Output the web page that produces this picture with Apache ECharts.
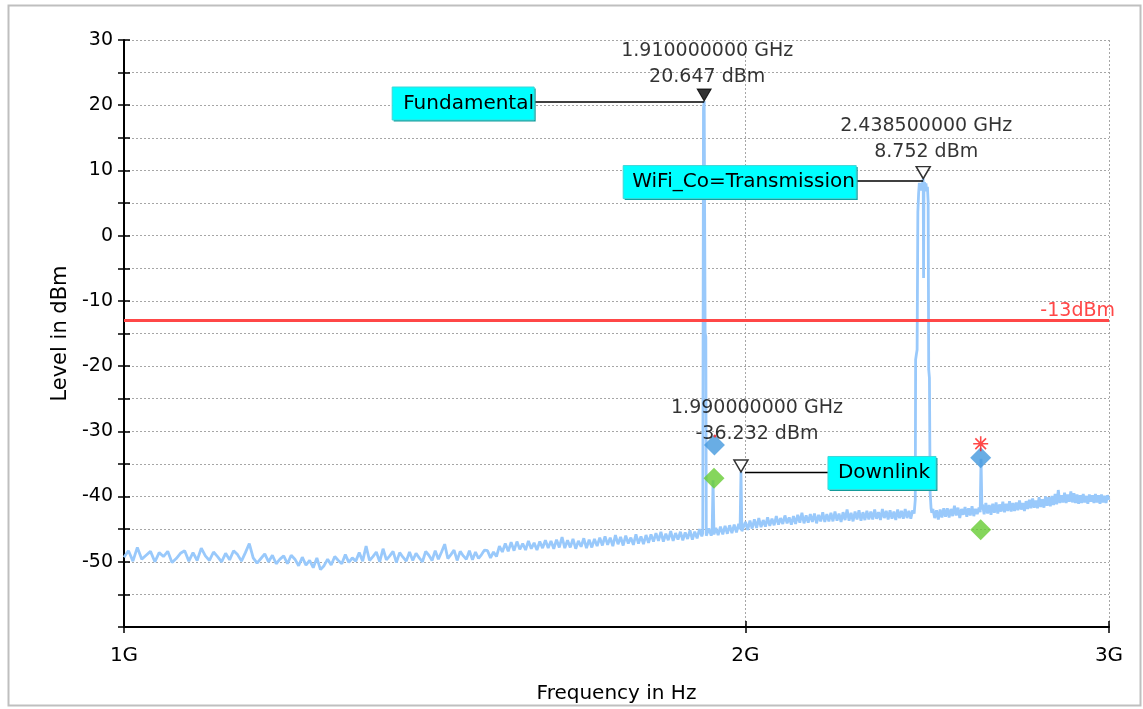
<!DOCTYPE html>
<html>
<head>
<meta charset="utf-8">
<script src="https://cdn.jsdelivr.net/npm/echarts@6/dist/echarts.min.js"></script>
<style>
  html, body { margin: 0; padding: 0; background: #fff; }
  #chart { width: 1143px; height: 709px; }
</style>
</head>
<body>
<div id="chart"></div>
<script>
const FONT = 'DejaVu Sans';

// Noise floor of the sweep, one level every 5 MHz from 1000 MHz to 3000 MHz (dBm)
const sweepStartMHz = 1000;
const sweepStepMHz = 5;
const floorLevelDbm = [
  -49.3, -48.3, -49.9, -47.8, -49.6, -49.0, -48.4, -50.0, -48.6, -49.2, -48.4, -50.1, -49.5, -48.7, -48.3, -49.9, -48.6, -49.8, -47.9, -49.1,
  -49.8, -48.5, -49.2, -50.0, -48.7, -49.7, -48.3, -48.9, -49.9, -48.6, -47.2, -49.4, -50.2, -49.5, -48.8, -50.0, -49.0, -50.3, -49.6, -49.1,
  -50.3, -49.0, -49.6, -50.6, -49.3, -50.5, -49.8, -50.9, -49.4, -51.2, -50.6, -49.6, -50.5, -49.2, -49.8, -50.3, -48.9, -50.1, -49.4, -49.9,
  -48.6, -49.9, -47.6, -49.8, -49.2, -48.5, -50.0, -48.0, -49.7, -49.1, -48.4, -50.1, -48.6, -49.3, -49.9, -48.5, -49.8, -48.7, -49.4, -50.0,
  -48.4, -49.0, -49.8, -48.3, -49.6, -48.5, -47.3, -49.5, -48.9, -48.2, -49.8, -48.4, -49.1, -49.6, -48.3, -49.7, -48.5, -49.5, -48.9, -48.2,
  -48.3, -49.4, -48.5, -49.2, -47.6, -48.5, -47.2, -48.4, -47.0, -48.3, -46.9, -48.1, -47.2, -48.2, -46.8, -48.0, -47.1, -48.2, -46.9, -47.9,
  -46.7, -47.9, -46.8, -48.0, -46.6, -47.8, -46.2, -47.9, -46.7, -47.8, -46.5, -48.0, -46.8, -47.7, -46.4, -47.9, -46.6, -47.8, -46.5, -47.6,
  -46.3, -47.5, -46.1, -47.4, -46.3, -47.6, -45.9, -47.3, -46.2, -47.5, -46.0, -47.2, -46.3, -47.4, -45.8, -47.2, -46.1, -47.3, -45.9, -47.1,
  -45.8, -46.9, -45.6, -46.8, -45.4, -46.9, -45.7, -46.7, -45.3, -46.8, -45.6, -46.6, -45.4, -46.7, -45.5, -46.5, -45.2, -46.6, -45.4, -46.4,
  -45.0, -46.1, -45.5, -46.2, -44.9, -46.0, -45.6, -44.8, -45.9, -44.6, -45.8, -44.5, -45.7, -44.4, -45.6, -44.3, -45.5, -44.2, -45.0, -45.3,
  -43.9, -45.1, -43.7, -44.9, -43.5, -44.8, -43.3, -44.7, -43.6, -44.6, -43.2, -44.5, -43.4, -44.4, -43.0, -44.3, -43.3, -44.2, -42.9, -44.1,
  -43.2, -44.3, -43.0, -44.2, -42.8, -44.0, -42.5, -44.1, -42.9, -44.0, -42.7, -43.9, -42.6, -44.1, -42.8, -43.8, -42.4, -43.9, -42.7, -43.8,
  -42.5, -43.8, -42.3, -43.7, -42.6, -43.9, -42.4, -43.6, -42.0, -43.7, -42.5, -43.8, -42.3, -43.5, -42.1, -43.7, -42.4, -43.6, -42.2, -43.5,
  -42.3, -43.5, -42.0, -43.4, -42.4, -43.6, -41.9, -43.3, -42.2, -43.5, -42.1, -43.4, -42.3, -43.6, -42.0, -43.3, -42.2, -43.4, -41.9, -43.3,
  -42.2, -43.4, -42.1, -42.8, -42.8, -42.8, -42.8, -42.8, -42.8, -42.8, -42.8, -42.8, -42.8, -41.9, -43.3, -42.1, -43.5, -42.0, -43.2, -41.8,
  -43.1, -41.8, -43.2, -41.9, -43.0, -41.4, -42.9, -41.7, -43.3, -41.9, -42.8, -41.6, -43.1, -41.8, -42.9, -41.5, -43.0, -41.9, -42.7, -41.7,
  -42.2, -41.2, -42.7, -41.0, -42.6, -41.3, -42.8, -41.1, -42.5, -40.9, -42.6, -41.2, -42.3, -40.8, -42.4, -41.1, -42.2, -40.7, -42.3, -41.0,
  -42.2, -40.9, -42.1, -40.6, -42.0, -41.0, -42.2, -40.7, -41.9, -40.5, -41.8, -40.3, -41.7, -40.6, -41.8, -40.1, -41.6, -40.4, -41.7, -40.0,
  -41.4, -40.1, -41.5, -39.9, -41.3, -39.6, -41.2, -39.0, -41.0, -39.8, -40.9, -39.4, -41.0, -39.7, -40.8, -39.2, -40.9, -39.5, -41.0, -39.7,
  -41.1, -39.8, -41.0, -39.6, -40.9, -39.9, -41.1, -39.7, -40.8, -39.8, -41.0, -39.6, -40.9, -39.8, -41.1, -39.7, -40.9, -39.9, -41.0, -39.8,
  -40.5
];

// Signals rising out of the floor: [MHz, dBm]
const fundamentalPeak = [[1907, -45.6], [1908.5, 19.5], [1910, 20.647], [1912, -14.9], [1913.5, -15.5], [1914.5, -46.0]];
const spur1929 = [[1927, -45.5], [1929, -37.5], [1931, -45.8]];
const downlinkSpur = [[1988, -45.0], [1990, -36.232], [1992, -45.3]];
const wifiChannel = [
  [2414, -42.6], [2417, -40.5], [2418, -19.0], [2420, -18.2], [2422, -17.5], [2424, 3.6], [2426, 6.4],
  [2428, 8.1], [2430, 7.2], [2432, 8.0], [2434, 6.9], [2436, 7.8], [2438.5, 8.752], [2439.5, -6.5],
  [2440.5, 7.6], [2442, 8.2], [2444, 7.1], [2446, 8.0], [2448, 6.8], [2450, 7.5], [2452, 5.2],
  [2453.5, -20.5], [2455.5, -21.8], [2457.5, -39.5], [2460, -41.8], [2462, -42.5]
];
const spur2600 = [[2598.5, -42.4], [2601, -34.2], [2603.5, -42.0]];

// Trace markers
const markerNames = ['Fundamental', 'WiFi_Co=Transmission', 'Downlink'];
const markerFreqGHz = [1.91, 2.4385, 1.99];
const markerLevelDbm = [20.647, 8.752, -36.232];
const markerFilled = [true, false, false];

// Limit line
const limitLevelDbm = -13;
const limitLabel = '-13dBm';

// Spot measurement symbols: [GHz, dBm]
const blueDiamonds = [[1.932, -32.1], [2.6, -34.05]];
const greenDiamonds = [[1.931, -37.2], [2.6, -45.1]];
const redAsterisks = [[2.6, -31.9]];
const redDots = [[1.933, -30.7]];

// Axis ticks
const xTickValues = [1, 2, 3];
const xTickLabels = ['1G', '2G', '3G'];
const yLabelStep = 10;

// ---- build the trace: floor samples, with signal segments replacing the floor where they sit
const segments = [fundamentalPeak, spur1929, downlinkSpur, wifiChannel, spur2600];
const tracePoints = [];
floorLevelDbm.forEach((lvl, i) => {
  const f = sweepStartMHz + i * sweepStepMHz;
  const covered = segments.some(s => f >= s[0][0] && f <= s[s.length - 1][0]);
  if (!covered) tracePoints.push([f, lvl]);
});
segments.forEach(s => s.forEach(p => tracePoints.push(p)));
tracePoints.sort((a, b) => a[0] - b[0]);
const traceData = tracePoints.map(p => [p[0] / 1000, p[1]]);

const xLabel = v => {
  const i = xTickValues.findIndex(t => Math.abs(t - v) < 1e-6);
  return i >= 0 ? xTickLabels[i] : '';
};
const yLabel = v => (v % yLabelStep === 0 && v > -60) ? String(v) : '';

const tickStyle = { color: '#000', width: 1.5 };
const gridLine = { show: true, lineStyle: { color: '#a6a6a6', width: 1, type: [2, 2] } };

const triFilled = 'path://M0,0L14,0L7,12Z';
const asterisk = 'path://M8,0L8,16M0,8L16,8M2.3,2.3L13.7,13.7M13.7,2.3L2.3,13.7';

const markerData = markerNames.map((name, i) => ({
  name,
  value: [markerFreqGHz[i], markerLevelDbm[i]],
  itemStyle: markerFilled[i]
    ? { color: '#000', borderColor: '#000', borderWidth: 1 }
    : { color: '#fff', borderColor: '#000', borderWidth: 1.5 },
  label: {
    offset: [[3, 3], [3, 0], [16, -11]][i]
  }
}));

const xBase = {
  type: 'log', logBase: 10, min: 1, max: 3, interval: Math.log10(2)
};
const yBase = { type: 'value', min: -60, max: 30, interval: 5 };

const option = {
  animation: false,
  backgroundColor: '#fff',
  textStyle: { fontFamily: FONT },
  grid: { left: 124, right: 34, top: 40, bottom: 82, containLabel: false },
  xAxis: [
    Object.assign({}, xBase, {
      position: 'bottom',
      name: 'Frequency in Hz', nameLocation: 'middle', nameGap: 57,
      nameTextStyle: { color: '#000', fontSize: 20, fontFamily: FONT },
      axisLine: { show: true, onZero: false, lineStyle: { color: '#000', width: 2 } },
      axisTick: { show: true, length: 6, lineStyle: tickStyle },
      axisLabel: { color: '#000', fontSize: 20, fontFamily: FONT, margin: 19, formatter: xLabel },
      splitLine: gridLine,
      minorTick: { show: false }, minorSplitLine: { show: false }
    }),
    Object.assign({}, xBase, {
      position: 'bottom',
      axisLine: { show: false, onZero: false },
      axisTick: { show: true, inside: true, length: 6, lineStyle: tickStyle },
      axisLabel: { show: false },
      splitLine: { show: false }
    })
  ],
  yAxis: [
    Object.assign({}, yBase, {
      position: 'left',
      name: 'Level in dBm', nameLocation: 'middle', nameGap: 52, nameRotate: 90,
      nameTextStyle: { color: '#000', fontSize: 21, fontFamily: FONT },
      axisLine: { show: true, onZero: false, lineStyle: { color: '#000', width: 2 } },
      axisTick: { show: true, length: 6, lineStyle: tickStyle },
      axisLabel: { color: '#000', fontSize: 19, fontFamily: FONT, margin: 11, formatter: yLabel },
      splitLine: gridLine
    }),
    Object.assign({}, yBase, {
      position: 'left',
      axisLine: { show: false, onZero: false },
      axisTick: { show: true, inside: true, length: 6, lineStyle: tickStyle },
      axisLabel: { show: false },
      splitLine: { show: false }
    })
  ],
  series: [
    {
      name: 'Trace', type: 'line', data: traceData,
      showSymbol: false, symbol: 'none', z: 2,
      lineStyle: { color: '#99c9fb', width: 2.8 },
      markLine: {
        silent: true, symbol: 'none', z: 3,
        lineStyle: { color: '#ff4747', width: 3, type: 'solid' },
        label: { show: false },
        data: [{ yAxis: limitLevelDbm }]
      }
    },
    {
      name: 'Blue', type: 'scatter', data: blueDiamonds, z: 4,
      symbol: 'diamond', symbolSize: 21, itemStyle: { color: '#4499dd' }
    },
    {
      name: 'Green', type: 'scatter', data: greenDiamonds, z: 4,
      symbol: 'diamond', symbolSize: 21, itemStyle: { color: '#66cc33' }
    },
    {
      name: 'RedStar', type: 'scatter', data: redAsterisks, z: 4,
      symbol: asterisk, symbolSize: 15,
      itemStyle: { color: 'none', borderColor: '#ff1a1a', borderWidth: 1.6 }
    },
    {
      name: 'RedDot', type: 'scatter', data: redDots, z: 6,
      symbol: 'circle', symbolSize: 3, itemStyle: { color: '#ff2020' }
    },
    {
      name: 'Markers', type: 'scatter', data: markerData, z: 8,
      symbol: triFilled, symbolSize: [14, 12], symbolOffset: [0, -6],
      label: {
        show: true, position: 'top', distance: 1,
        color: '#000', fontSize: 19, fontFamily: FONT, lineHeight: 26, align: 'center',
        formatter: p => p.value[0].toFixed(9) + ' GHz\n' + p.value[1].toFixed(3) + ' dBm'
      }
    }
  ]
};

const chart = echarts.init(document.getElementById('chart'), null, { renderer: 'canvas' });
chart.setOption(option);

// Tag boxes and leader lines, placed relative to each marker's pixel position
const tagLayout = [
  { side: 'left', gap: 170, width: 142, dy: 2.5, lineDy: 1, pad: 11 },
  { side: 'left', gap: 67, width: 233, dy: 3.5, lineDy: 2.5, pad: 9 },
  { side: 'right', gap: 87, width: 108, dy: 1, lineDy: 0.5, pad: 10 }
];
const toPx = (f, v) => chart.convertToPixel({ xAxisIndex: 0, yAxisIndex: 0 }, [f, v]);
const graphics = [];
markerNames.forEach((name, i) => {
  const p = toPx(markerFreqGHz[i], markerLevelDbm[i]);
  const L = tagLayout[i];
  const h = 33;
  const bx = L.side === 'left' ? p[0] - L.gap - L.width : p[0] + L.gap;
  const by = p[1] + L.dy - h / 2;
  const lineY = p[1] + L.lineDy;
  const x1 = L.side === 'left' ? bx + L.width : p[0] + 4;
  const x2 = L.side === 'left' ? p[0] : bx;
  graphics.push({
    type: 'line', z: 20,
    shape: { x1, y1: lineY, x2, y2: lineY },
    style: { stroke: '#000', lineWidth: 1.5 }
  });
  graphics.push({
    type: 'rect', z: 21,
    shape: { x: bx + 1.5, y: by + 1.5, width: L.width, height: h },
    style: { fill: '#129a9a' }
  });
  graphics.push({
    type: 'rect', z: 22,
    shape: { x: bx, y: by, width: L.width, height: h },
    style: { fill: '#00ffff', stroke: '#3fd6d6', lineWidth: 1 }
  });
  graphics.push({
    type: 'text', z: 23,
    style: {
      x: bx + L.pad, y: by + h / 2, text: name,
      fill: '#000', font: '20px "' + FONT + '"',
      textAlign: 'left', textVerticalAlign: 'middle'
    }
  });
});

// Limit line caption at the right end of the plot
const limitPx = toPx(3, limitLevelDbm);
graphics.push({
  type: 'text', z: 10,
  style: {
    x: limitPx[0] + 6, y: limitPx[1] - 9, text: limitLabel,
    fill: '#ff4747', font: '19px "' + FONT + '"',
    textAlign: 'right', textVerticalAlign: 'middle'
  }
});

// Outer frame
graphics.push({
  type: 'rect', z: 0, silent: true,
  shape: { x: 8.5, y: 5.5, width: 1132, height: 700 },
  style: { fill: 'none', stroke: '#bfbfbf', lineWidth: 2 }
});

chart.setOption({ graphic: graphics });
</script>
</body>
</html>
